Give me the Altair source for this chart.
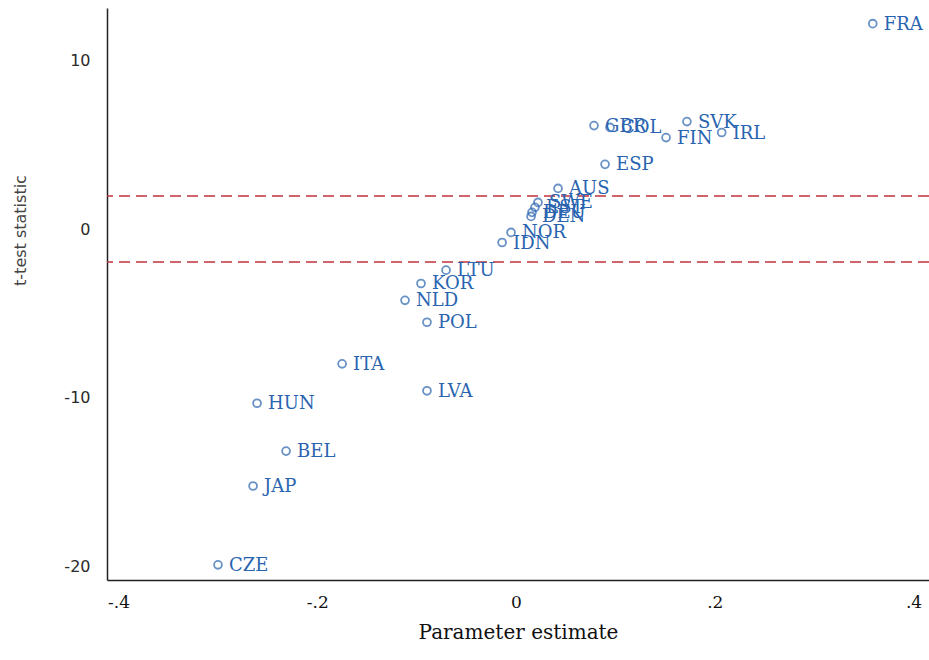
import altair as alt
import pandas as pd

# Country-level estimates and their t statistics
countries = ["FRA", "GBR", "COL", "SVK", "IRL", "FIN", "ESP", "AUS", "SWE", "EST",
             "DEU", "DEN", "NOR", "IDN", "LTU", "KOR", "NLD", "POL", "ITA", "LVA",
             "HUN", "BEL", "JAP", "CZE"]
estimates = [0.359, 0.0785, 0.0946, 0.172, 0.207, 0.151, 0.0896, 0.0423, 0.0221, 0.0191,
             0.0161, 0.0151, -0.005, -0.014, -0.0704, -0.0956, -0.1117, -0.0896, -0.175, -0.0896,
             -0.2606, -0.2314, -0.2646, -0.2999]
tstats = [12.19, 6.14, 6.03, 6.38, 5.73, 5.43, 3.84, 2.41, 1.58, 1.29,
          0.99, 0.75, -0.2, -0.8, -2.44, -3.23, -4.23, -5.53, -8.0, -9.6,
          -10.34, -13.18, -15.25, -19.93]

# Critical values for a two-sided 5% test
critical = [1.96, -1.96]

x_ticks = [-0.4, -0.2, 0.0, 0.2, 0.4]
y_ticks = [-20, -10, 0, 10]

df = pd.DataFrame({"country": countries, "estimate": estimates, "t": tstats})
crit_df = pd.DataFrame({"t": critical})

blue = "#2a64b0"
red = "#c0323c"

x_scale = alt.Scale(domain=[-0.4116, 0.4156], nice=False, zero=False)
y_scale = alt.Scale(domain=[-20.83, 13.12], nice=False, zero=False)

x_enc = alt.X(
    "estimate:Q",
    scale=x_scale,
    title="Parameter estimate",
    axis=alt.Axis(
        values=x_ticks,
        labelExpr="datum.value == 0 ? '0' : replace(toString(datum.value), '0.', '.')",
        ticks=False,
        grid=False,
        domainColor="#222222",
        domainWidth=1.5,
        labelFont="DejaVu Serif",
        labelFontSize=17,
        labelColor="#111111",
        labelPadding=14,
        titleFont="DejaVu Serif",
        titleFontSize=20,
        titleFontWeight="normal",
        titleColor="#111111",
        titlePadding=12,
    ),
)
y_enc = alt.Y(
    "t:Q",
    scale=y_scale,
    title="t-test statistic",
    axis=alt.Axis(
        values=y_ticks,
        labelExpr="toString(datum.value)",
        ticks=False,
        grid=False,
        domainColor="#222222",
        domainWidth=1.5,
        labelFont="DejaVu Sans",
        labelFontSize=16,
        labelColor="#2a2a2a",
        labelPadding=17,
        titleFont="DejaVu Sans",
        titleFontSize=16,
        titleFontWeight="normal",
        titleColor="#444444",
        titleAngle=270,
        titleAlign="center",
        titleBaseline="middle",
        titleX=-87,
        titleY=222,
    ),
)

rules = alt.Chart(crit_df).mark_rule(
    color=red, strokeDash=[11, 6], strokeWidth=1.6
).encode(y=alt.Y("t:Q", scale=y_scale))

points = alt.Chart(df).mark_point(
    shape="circle", filled=False, size=62, strokeWidth=1.8, color=blue
).encode(x=x_enc, y=y_enc)

labels = alt.Chart(df).mark_text(
    align="left", baseline="middle", dx=11, dy=1,
    font="DejaVu Serif", fontSize=18, color=blue
).encode(x=alt.X("estimate:Q", scale=x_scale), y=alt.Y("t:Q", scale=y_scale), text="country:N")

chart = (
    alt.layer(rules, points, labels)
    .properties(
        width=822,
        height=572,
        autosize=alt.AutoSizeParams(type="none"),
        padding={"left": 107, "top": 8, "right": 0, "bottom": 80},
        background="white",
    )
    .configure_view(stroke=None)
)

chart.save("out.html", embed_options={"renderer": "svg", "actions": False})
